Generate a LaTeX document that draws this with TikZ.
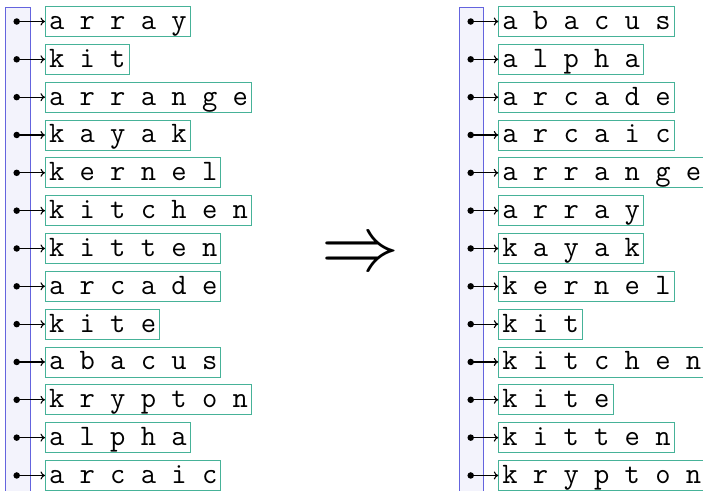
\documentclass[tikz,border=0pt]{standalone}
\usepackage{fontspec}
\usepackage{graphicx}
\usetikzlibrary{arrows.meta}
\definecolor{slotfill}{RGB}{243,243,252}
\definecolor{slotline}{RGB}{100,100,222}
\definecolor{strline}{RGB}{70,178,152}
\tikzset{
  ptrcol/.style={draw=slotline, fill=slotfill, line width=0.9pt},
  strbox/.style={draw=strline, line width=0.9pt, anchor=west,
    inner xsep=3.6pt, inner ysep=2pt, text height=21pt, text depth=5pt,
    font=\fontsize{29.7}{30}\selectfont\ttfamily},
  ptrdot/.style={circle, fill=black, inner sep=0pt, minimum size=6.5pt},
  ptrarrow/.style={line width=1.1pt, -{To[length=4.5pt,width=8pt]}}
}
\begin{document}
\begin{tikzpicture}[x=1pt, y=-1pt]
  \useasboundingbox (0,0) rectangle (703,490);
  % pointer columns
  \draw[ptrcol] (5.5,7.3) rectangle (30,500);
  \draw[ptrcol] (459,7.3) rectangle (483.5,500);
  % unsorted strings
  \foreach \w [count=\i from 0] in {a r r a y, k i t, a r r a n g e, k a y a k, k e r n e l, k i t c h e n, k i t t e n, a r c a d e, k i t e, a b a c u s, k r y p t o n, a l p h a, a r c a i c} {
    \node[ptrdot] (l\i) at (16.7, 21.5+37.83*\i) {};
    \node[strbox] (ls\i) at (45, 21.5+37.83*\i) {\w};
    \draw[ptrarrow] (l\i.center) -- (ls\i.west);
  }
  % sorted strings
  \foreach \w [count=\i from 0] in {a b a c u s, a l p h a, a r c a d e, a r c a i c, a r r a n g e, a r r a y, k a y a k, k e r n e l, k i t, k i t c h e n, k i t e, k i t t e n, k r y p t o n} {
    \node[ptrdot] (r\i) at (470.7, 21.5+37.83*\i) {};
    \node[strbox] (rs\i) at (498.3, 21.5+37.83*\i) {\w};
    \draw[ptrarrow] (r\i.center) -- (rs\i.west);
  }
  \node[inner sep=0pt] (implies) at (360,256.5) {\scalebox{7.8}{$\Rightarrow$}};
\end{tikzpicture}
\end{document}
